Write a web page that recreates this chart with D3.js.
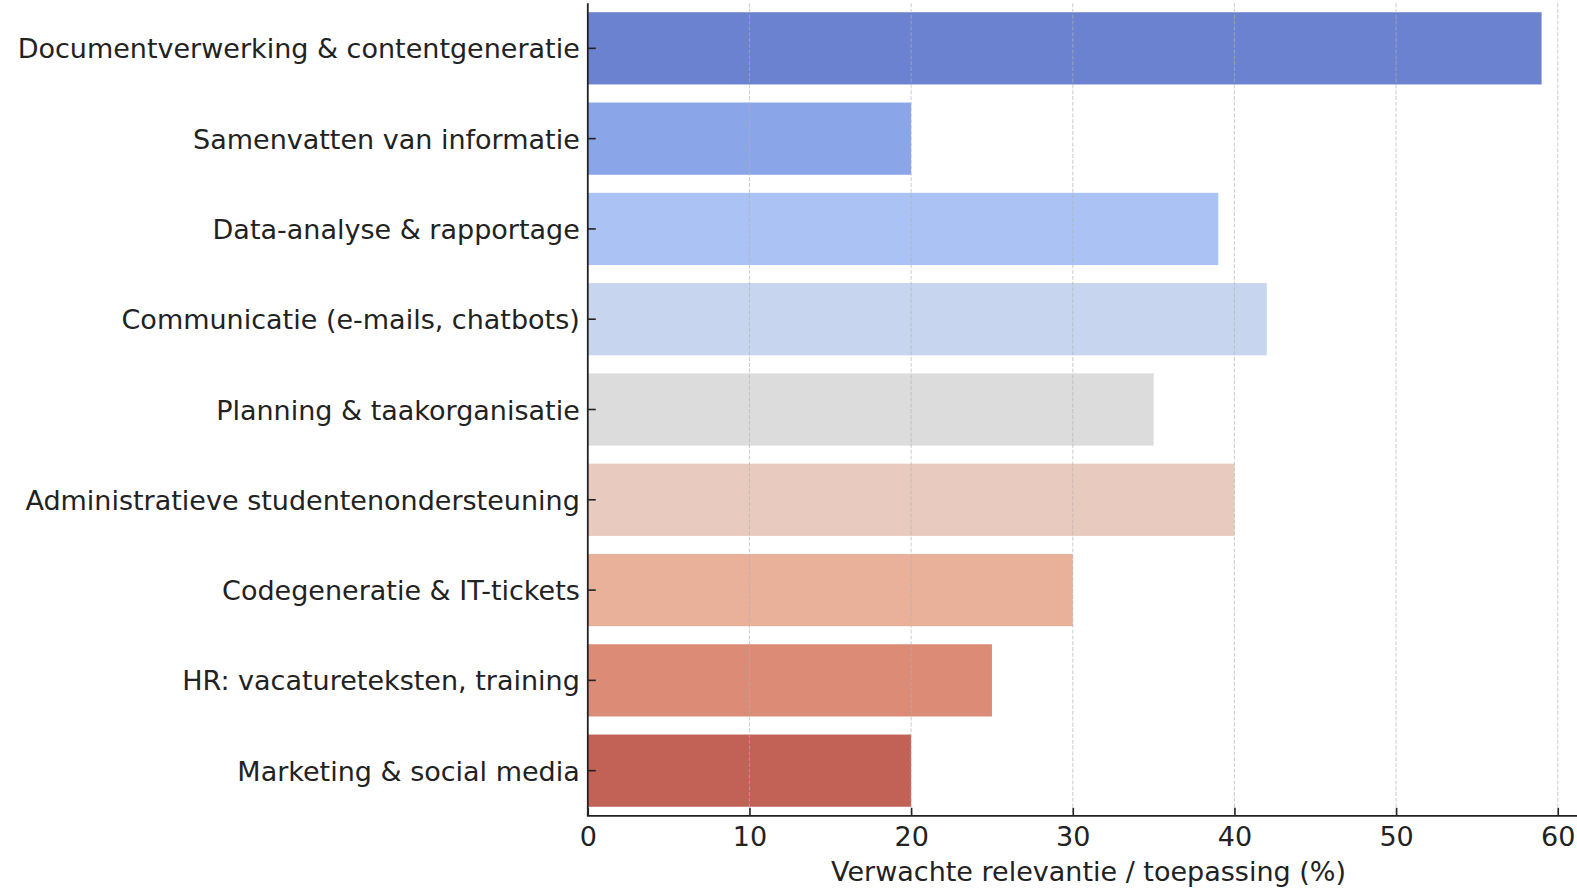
<!DOCTYPE html>
<html>
<head>
<meta charset="utf-8">
<script src="https://cdn.jsdelivr.net/npm/d3@7"></script>
<style>
  html, body { margin: 0; padding: 0; background: #fff; overflow: hidden; }
  svg { display: block; font-family: "DejaVu Sans", sans-serif; }
</style>
</head>
<body>
<svg id="chart" width="1577" height="888"></svg>
<script>
const categories = [
  "Documentverwerking & contentgeneratie",
  "Samenvatten van informatie",
  "Data-analyse & rapportage",
  "Communicatie (e-mails, chatbots)",
  "Planning & taakorganisatie",
  "Administratieve studentenondersteuning",
  "Codegeneratie & IT-tickets",
  "HR: vacatureteksten, training",
  "Marketing & social media"
];
const values = [59, 20, 39, 42, 35, 40, 30, 25, 20];
const barColors = ["#6a82d0", "#8aa5e8", "#aac2f4", "#c8d5ef", "#dcdcdc", "#e8cbbe", "#e9b19a", "#dc8b76", "#c26257"];
const xTicks = [0, 10, 20, 30, 40, 50, 60];
const xDomain = [0, 61.95];
const xLabel = "Verwachte relevantie / toepassing (%)";

const svg = d3.select("#chart");
const pLeft = 587.8, unit = 16.166, pTop = 3.2, pBottom = 815.8;
const pRight = pLeft + (xDomain[1] - xDomain[0]) * unit;
const fontSize = 27;

const x = d3.scaleLinear().domain(xDomain).range([pLeft, pRight]);
const y = d3.scaleBand().domain(categories).range([pTop, pBottom]).paddingInner(0.2).paddingOuter(0.1);

// bars
svg.append("g").selectAll("rect").data(categories).join("rect")
  .attr("x", x(0))
  .attr("y", d => y(d))
  .attr("width", (d, i) => x(values[i]) - x(0))
  .attr("height", y.bandwidth())
  .attr("fill", (d, i) => barColors[i]);

// grid (above bars)
svg.append("g").selectAll("line").data(xTicks.slice(1)).join("line")
  .attr("x1", d => x(d)).attr("x2", d => x(d))
  .attr("y1", pTop).attr("y2", pBottom)
  .attr("stroke", "#b0b0b0")
  .attr("stroke-opacity", 0.6)
  .attr("stroke-width", 1.1)
  .attr("stroke-dasharray", "4,1.8");

// x axis
const xAxis = d3.axisBottom(x).tickValues(xTicks).tickSize(-8).tickPadding(11).tickFormat(d3.format("d"));
const gx = svg.append("g").attr("transform", `translate(0,${pBottom})`).call(xAxis);
gx.select(".domain").attr("stroke", "#222").attr("stroke-width", 1.8).attr("d", `M${pLeft-0.9},0H${pRight}`);
gx.selectAll(".tick line").attr("stroke", "#222").attr("stroke-width", 1.6);
gx.selectAll(".tick text").attr("fill", "#222").attr("font-size", fontSize).attr("font-family", "DejaVu Sans");

// y axis
const yAxis = d3.axisLeft(y).tickSize(-8).tickPadding(8);
const gy = svg.append("g").attr("transform", `translate(${pLeft},0)`).call(yAxis);
gy.select(".domain").attr("stroke", "#222").attr("stroke-width", 1.8).attr("d", `M0,${pTop}V${pBottom}`);
gy.selectAll(".tick line").attr("stroke", "#222").attr("stroke-width", 1.6);
gy.selectAll(".tick text").attr("fill", "#222").attr("font-size", fontSize).attr("font-family", "DejaVu Sans").attr("dy", "0.37em");

// x label
svg.append("text")
  .attr("x", (pLeft + pRight) / 2)
  .attr("y", 880.5)
  .attr("text-anchor", "middle")
  .attr("fill", "#222")
  .attr("font-size", fontSize)
  .text(xLabel);
</script>
</body>
</html>
